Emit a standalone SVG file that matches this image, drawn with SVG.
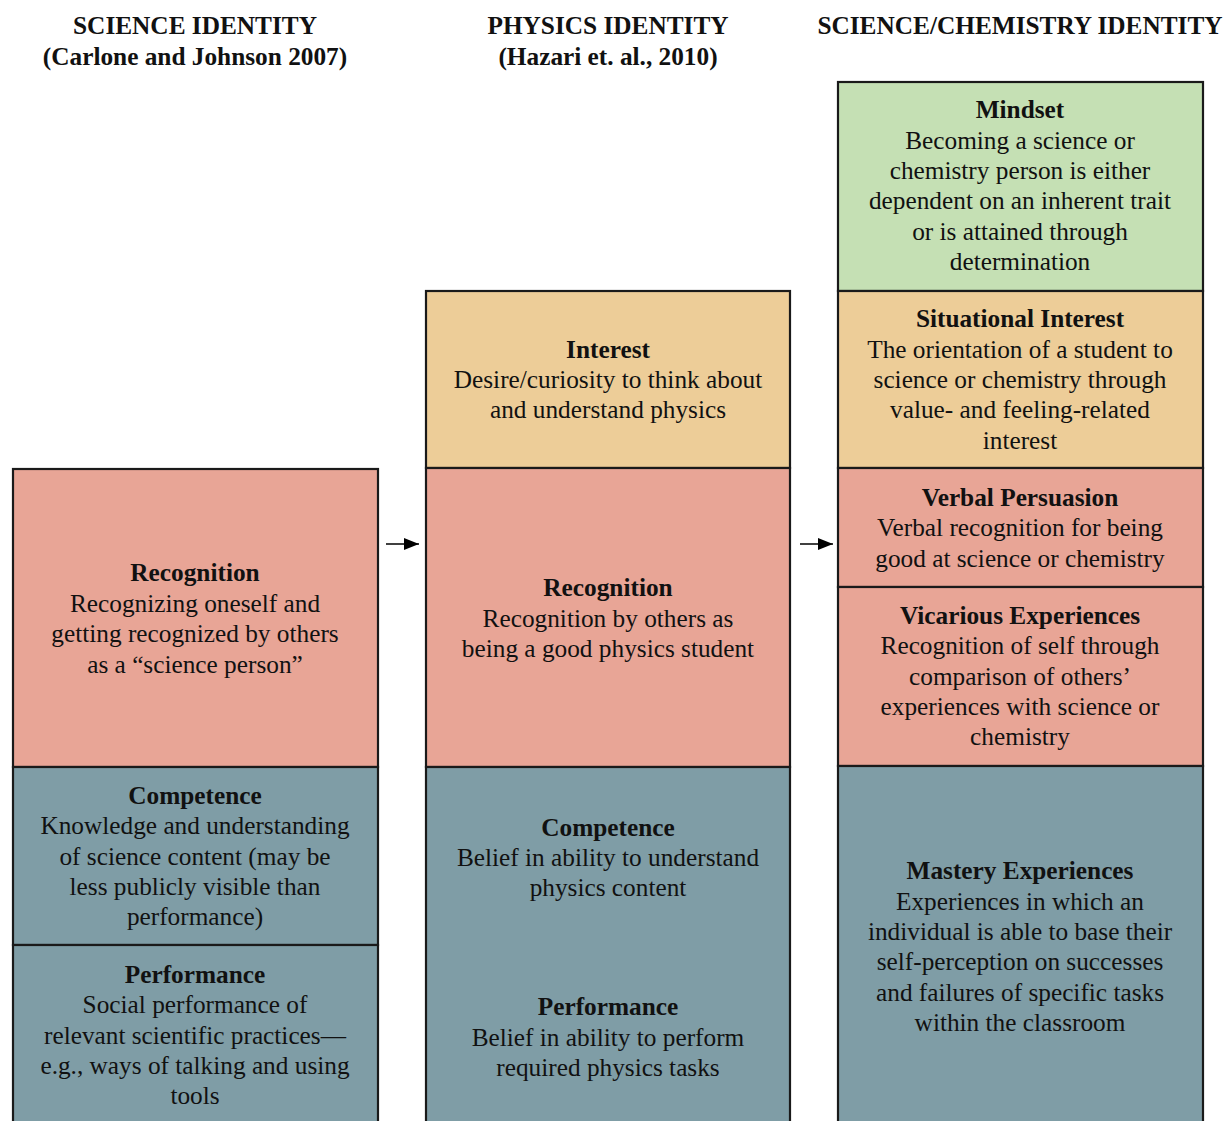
<svg xmlns="http://www.w3.org/2000/svg" width="1225" height="1121" viewBox="0 0 1225 1121">
<style>
text{font-family:"Liberation Serif","Times New Roman",serif;font-size:25.3px;fill:#111;text-anchor:middle}
.b{font-weight:bold}
.box{stroke:#1a1a1a;stroke-width:2.2}
.sal{fill:#E8A596}.org{fill:#EDCD98}.grn{fill:#C5E0B4}.blu{fill:#7F9DA6}
.conn{stroke:#000;stroke-width:1.6;fill:none}
</style>
<defs>
<marker id="ah" viewBox="0 0 15 12" refX="15" refY="6" markerWidth="15" markerHeight="12" markerUnits="userSpaceOnUse" orient="auto"><path d="M0,0 L15,6 L0,12 z" fill="#000"/></marker>
</defs>
<rect width="1225" height="1121" fill="#fff"/>
<g id="headers">
<text class="b" x="195" y="34">SCIENCE IDENTITY</text>
<text class="b" x="195" y="65">(Carlone and Johnson 2007)</text>
<text class="b" x="608" y="34">PHYSICS IDENTITY</text>
<text class="b" x="608" y="65">(Hazari et. al., 2010)</text>
<text class="b" x="1020" y="34">SCIENCE/CHEMISTRY IDENTITY</text>
</g>
<g id="connectors">
<line class="conn" x1="386" y1="544" x2="419" y2="544" marker-end="url(#ah)"/>
<line class="conn" x1="800" y1="544" x2="833" y2="544" marker-end="url(#ah)"/>
</g>
<g id="c1-recognition">
<rect class="box sal" x="13" y="469" width="365" height="298"/>
<text class="b" x="195" y="581">Recognition</text>
<text x="195" y="612">Recognizing oneself and</text>
<text x="195" y="642">getting recognized by others</text>
<text x="195" y="673">as a “science person”</text>
</g>
<g id="c1-competence">
<rect class="box blu" x="13" y="767" width="365" height="178"/>
<text class="b" x="195" y="804">Competence</text>
<text x="195" y="834">Knowledge and understanding</text>
<text x="195" y="865">of science content (may be</text>
<text x="195" y="895">less publicly visible than</text>
<text x="195" y="925">performance)</text>
</g>
<g id="c1-performance">
<rect class="box blu" x="13" y="945" width="365" height="190"/>
<text class="b" x="195" y="983">Performance</text>
<text x="195" y="1013">Social performance of</text>
<text x="195" y="1044">relevant scientific practices—</text>
<text x="195" y="1074">e.g., ways of talking and using</text>
<text x="195" y="1104">tools</text>
</g>
<g id="c2-interest">
<rect class="box org" x="426" y="291" width="364" height="177"/>
<text class="b" x="608" y="358">Interest</text>
<text x="608" y="388">Desire/curiosity to think about</text>
<text x="608" y="418">and understand physics</text>
</g>
<g id="c2-recognition">
<rect class="box sal" x="426" y="468" width="364" height="299"/>
<text class="b" x="608" y="596">Recognition</text>
<text x="608" y="627">Recognition by others as</text>
<text x="608" y="657">being a good physics student</text>
</g>
<g id="c2-competence-performance">
<rect class="box blu" x="426" y="767" width="364" height="370"/>
<text class="b" x="608" y="836">Competence</text>
<text x="608" y="866">Belief in ability to understand</text>
<text x="608" y="896">physics content</text>
<text class="b" x="608" y="1015">Performance</text>
<text x="608" y="1046">Belief in ability to perform</text>
<text x="608" y="1076">required physics tasks</text>
</g>
<g id="c3-mindset">
<rect class="box grn" x="838" y="82" width="365" height="209"/>
<text class="b" x="1020" y="118">Mindset</text>
<text x="1020" y="149">Becoming a science or</text>
<text x="1020" y="179">chemistry person is either</text>
<text x="1020" y="209">dependent on an inherent trait</text>
<text x="1020" y="240">or is attained through</text>
<text x="1020" y="270">determination</text>
</g>
<g id="c3-situational">
<rect class="box org" x="838" y="291" width="365" height="177"/>
<text class="b" x="1020" y="327">Situational Interest</text>
<text x="1020" y="358">The orientation of a student to</text>
<text x="1020" y="388">science or chemistry through</text>
<text x="1020" y="418">value- and feeling-related</text>
<text x="1020" y="449">interest</text>
</g>
<g id="c3-verbal">
<rect class="box sal" x="838" y="468" width="365" height="119"/>
<text class="b" x="1020" y="506">Verbal Persuasion</text>
<text x="1020" y="536">Verbal recognition for being</text>
<text x="1020" y="567">good at science or chemistry</text>
</g>
<g id="c3-vicarious">
<rect class="box sal" x="838" y="587" width="365" height="179"/>
<text class="b" x="1020" y="624">Vicarious Experiences</text>
<text x="1020" y="654">Recognition of self through</text>
<text x="1020" y="685">comparison of others’</text>
<text x="1020" y="715">experiences with science or</text>
<text x="1020" y="745">chemistry</text>
</g>
<g id="c3-mastery">
<rect class="box blu" x="838" y="766" width="365" height="371"/>
<text class="b" x="1020" y="879">Mastery Experiences</text>
<text x="1020" y="910">Experiences in which an</text>
<text x="1020" y="940">individual is able to base their</text>
<text x="1020" y="970">self-perception on successes</text>
<text x="1020" y="1001">and failures of specific tasks</text>
<text x="1020" y="1031">within the classroom</text>
</g>
</svg>
